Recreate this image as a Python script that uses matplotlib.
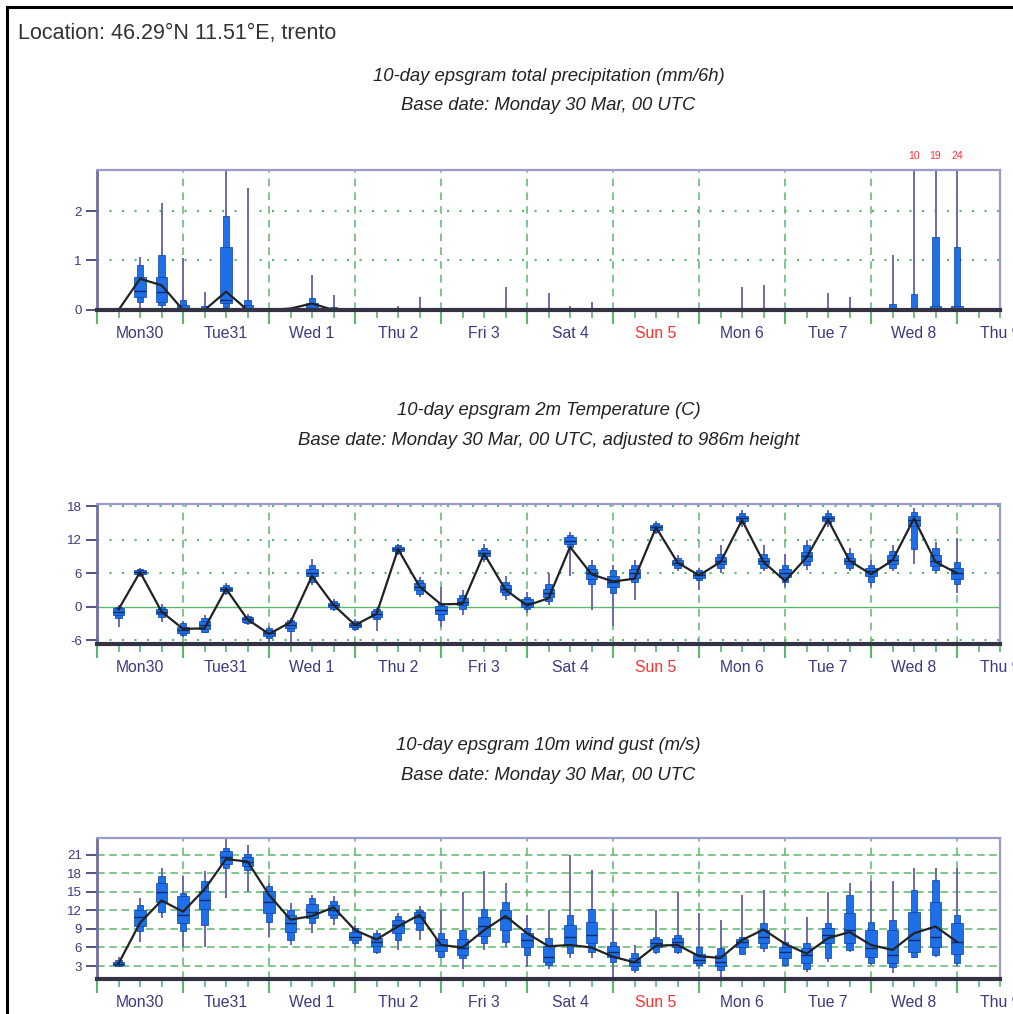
"""10-day epsgram (precip, 2m temperature, 10m wind gust) for trento."""
import numpy as np
import matplotlib.pyplot as plt
from matplotlib.lines import Line2D

plt.rcParams['font.family'] = ['Liberation Sans', 'DejaVu Sans']
plt.rcParams['axes.unicode_minus'] = False

# forecast steps every 6 h, 6..240
steps = np.arange(6, 241, 6)

day_labels = ["Mon30", "Tue31", "Wed 1", "Thu 2", "Fri 3", "Sat 4", "Sun 5",
              "Mon 6", "Tue 7", "Wed 8", "Thu 9"]

# --- total precipitation (mm/6h) ---
p_med = [0, 0.38, 0.37, 0, 0, 0.21, 0.02, 0, 0, 0.05, 0, 0, 0, 0, 0, 0, 0, 0, 0, 0,
         0, 0, 0, 0, 0, 0, 0, 0, 0, 0, 0, 0, 0, 0, 0, 0, 0, 0, 0.02, 0.02]
p_p25 = [0, 0.27, 0.17, 0, 0, 0.15, 0, 0, 0, 0.02, 0, 0, 0, 0, 0, 0, 0, 0, 0, 0,
         0, 0, 0, 0, 0, 0, 0, 0, 0, 0, 0, 0, 0, 0, 0, 0, 0, 0, 0, 0]
p_p75 = [0, 0.67, 0.67, 0.10, 0.04, 1.28, 0.10, 0, 0, 0.15, 0.03, 0, 0, 0, 0, 0, 0, 0, 0, 0,
         0, 0, 0, 0, 0, 0, 0, 0, 0, 0.01, 0.02, 0, 0, 0, 0, 0, 0.03, 0.05, 0.08, 0.08]
p_p10 = [0, 0.17, 0.10, 0, 0, 0.07, 0, 0, 0, 0, 0, 0, 0, 0, 0, 0, 0, 0, 0, 0,
         0, 0, 0, 0, 0, 0, 0, 0, 0, 0, 0, 0, 0, 0, 0, 0, 0, 0, 0, 0]
p_p90 = [0, 0.91, 1.11, 0.20, 0.08, 1.89, 0.20, 0, 0, 0.24, 0.07, 0, 0, 0, 0, 0, 0, 0, 0, 0,
         0, 0, 0, 0, 0, 0, 0, 0, 0, 0.03, 0.04, 0, 0, 0, 0, 0, 0.12, 0.32, 1.47, 1.27]
p_max = [0, 1.08, 2.16, 1.05, 0.37, 2.80, 2.46, 0, 0.05, 0.71, 0.30, 0, 0, 0.09, 0.27, 0, 0.05, 0.02, 0.47, 0,
         0.34, 0.09, 0.17, 0, 0, 0, 0, 0, 0.02, 0.47, 0.50, 0, 0, 0.34, 0.27, 0, 1.11, 10, 19, 24]
p_min = [0] * 40
p_hres = [0, 0.63, 0.50, 0, 0, 0.37, 0, 0, 0.03, 0.13, 0, 0, 0, 0, 0, 0, 0, 0, 0, 0,
          0, 0, 0, 0, 0, 0, 0, 0, 0, 0, 0, 0, 0, 0, 0, 0, 0, 0, 0, 0]

# --- 2m temperature (C) ---
t_med = [-0.9, 6.2, -0.9, -4.2, -3.3, 3.2, -2.3, -4.7, -3.3, 6.1, 0.3, -3.3, -1.3, 10.3, 3.5, -0.6,
         0.9, 9.6, 3.2, 0.7, 2.4, 11.8, 6.0, 4.5, 6.0, 14.2, 7.9, 5.7, 8.2, 15.8, 8.2, 6.1,
         9.0, 15.8, 8.2, 6.3, 8.3, 15.5, 8.1, 6.1]
t_p25 = [-1.5, 5.8, -1.4, -4.7, -4.0, 2.8, -2.7, -5.2, -3.9, 5.4, -0.1, -3.7, -1.8, 9.9, 2.9, -1.4,
         0.2, 9.0, 2.6, 0.0, 1.7, 11.2, 5.0, 3.5, 5.2, 13.8, 7.4, 5.1, 7.6, 15.3, 7.6, 5.3,
         8.2, 15.3, 7.6, 5.5, 7.6, 14.5, 7.3, 5.0]
t_p75 = [-0.3, 6.6, -0.4, -3.6, -2.6, 3.6, -1.9, -4.2, -2.7, 6.8, 0.7, -2.9, -0.8, 10.7, 4.2, 0.1,
         1.5, 10.1, 3.8, 1.3, 3.2, 12.4, 6.8, 5.5, 6.8, 14.6, 8.4, 6.2, 8.9, 16.3, 8.8, 6.8,
         9.8, 16.3, 8.8, 7.0, 9.2, 16.3, 9.2, 7.0]
t_p10 = [-2.0, 5.6, -1.8, -5.0, -4.5, 2.5, -3.0, -5.6, -4.4, 4.5, -0.4, -4.0, -2.2, 9.6, 2.3, -2.4,
         -0.5, 8.5, 2.0, -0.5, 1.0, 10.7, 4.0, 2.5, 4.5, 13.4, 7.0, 4.7, 7.0, 14.9, 7.0, 4.5,
         7.5, 14.9, 7.0, 4.5, 7.0, 10.3, 6.5, 4.0]
t_p90 = [0.0, 6.8, 0.0, -3.0, -2.1, 3.9, -1.6, -3.9, -2.4, 7.5, 1.0, -2.6, -0.4, 11.0, 4.8, 0.6,
         2.0, 10.5, 4.5, 1.8, 4.0, 12.8, 7.5, 6.5, 7.5, 15.0, 8.8, 6.6, 9.5, 16.7, 9.5, 7.5,
         11.0, 16.8, 9.6, 7.5, 10.0, 17.0, 10.5, 8.0]
t_min = [-3.6, 5.3, -2.7, -5.5, -4.8, 2.1, -3.3, -6.5, -6.5, 3.8, -0.8, -4.4, -4.4, 9.2, 1.8, -3.6,
         -1.5, 8.0, 1.2, -1.2, 0.3, 5.5, -0.6, -3.4, 1.2, 13.0, 6.3, 3.0, 6.0, 14.3, 6.3, 3.6,
         6.6, 14.3, 6.3, 3.5, 6.3, 7.7, 6.0, 2.5]
t_max = [0.3, 7.0, 0.4, -2.6, -1.5, 4.2, -1.3, -3.5, -2.0, 8.6, 1.3, -2.3, 0.0, 11.3, 5.3, 3.6,
         3.0, 11.2, 5.5, 2.6, 6.0, 13.3, 8.3, 7.4, 8.3, 15.4, 9.3, 7.0, 11.0, 17.3, 11.0, 9.4,
         12.0, 17.3, 10.5, 8.3, 11.0, 17.6, 11.6, 12.3]
t_hres = [-0.5, 6.2, -0.9, -4.0, -3.9, 3.2, -2.3, -4.9, -2.8, 5.5, 0.3, -3.3, -1.3, 10.3, 3.6, 0.4,
          0.5, 9.5, 3.0, 0.2, 1.5, 10.7, 5.8, 4.5, 5.0, 14.2, 7.9, 5.6, 8.0, 15.5, 8.0, 4.6,
          8.8, 15.6, 8.2, 5.8, 8.3, 15.8, 8.0, 6.0]

# --- 10m wind gust (m/s) ---
w_med = [3.4, 11.0, 15.0, 11.3, 13.7, 20.7, 19.9, 13.4, 9.9, 11.8, 12.1, 7.75, 6.9, 9.6, 11.0, 6.4,
         5.9, 9.4, 10.7, 7.2, 4.5, 7.75, 8.0, 5.3, 3.7, 6.7, 6.9, 4.0, 3.7, 6.9, 7.75, 5.3,
         4.8, 8.0, 8.8, 5.9, 4.8, 7.2, 7.75, 6.9]
w_p25 = [3.2, 9.4, 13.4, 10.0, 12.2, 19.5, 19.2, 11.5, 8.5, 10.8, 11.3, 7.2, 6.2, 8.4, 10.0, 5.5,
         4.8, 7.8, 8.8, 6.0, 3.6, 6.4, 6.7, 4.5, 3.0, 6.0, 6.1, 3.5, 3.0, 6.1, 6.7, 4.3,
         3.5, 6.7, 6.7, 4.5, 3.5, 5.3, 6.1, 5.0]
w_p75 = [3.7, 12.1, 16.4, 14.3, 15.1, 21.6, 20.7, 15.1, 11.3, 13.0, 12.9, 8.5, 7.6, 10.4, 11.7, 7.3,
         7.3, 11.0, 12.0, 8.4, 6.2, 9.6, 10.2, 6.2, 4.3, 7.3, 7.5, 5.0, 4.8, 7.3, 8.8, 6.1,
         5.9, 9.1, 11.5, 8.8, 8.8, 11.8, 13.4, 9.9]
w_p10 = [3.0, 8.6, 11.8, 8.6, 9.6, 18.8, 18.6, 10.2, 7.2, 9.9, 10.8, 6.7, 5.3, 7.2, 8.8, 4.5,
         4.3, 6.7, 6.9, 4.8, 3.2, 5.1, 5.3, 3.7, 2.35, 5.3, 5.3, 3.2, 2.35, 5.0, 5.9, 3.2,
         2.6, 4.3, 5.6, 3.5, 2.9, 4.5, 4.8, 3.5]
w_p90 = [3.9, 12.9, 17.5, 14.8, 16.7, 22.1, 21.2, 15.9, 12.1, 14.0, 13.5, 9.1, 8.3, 11.1, 12.1, 8.3,
         8.8, 12.3, 13.4, 9.1, 7.5, 11.3, 12.3, 6.9, 5.1, 7.75, 8.0, 6.1, 5.9, 7.75, 9.9, 6.9,
         6.7, 9.9, 14.5, 10.2, 10.5, 15.3, 16.9, 11.3]
w_min = [2.8, 6.9, 10.8, 6.1, 6.1, 14.0, 15.0, 7.7, 6.4, 8.3, 9.6, 6.1, 4.9, 5.6, 7.2, 4.3,
         2.6, 5.6, 6.1, 2.9, 2.6, 4.3, 4.3, 1.3, 1.9, 5.0, 5.0, 2.6, 1.3, 4.8, 5.3, 2.9,
         2.1, 3.7, 5.3, 3.2, 1.9, 4.3, 4.5, 2.9]
w_max = [4.5, 14.0, 18.8, 17.5, 18.3, 23.7, 22.5, 16.4, 13.2, 14.5, 14.3, 9.6, 8.8, 11.5, 12.7, 12.1,
         15.0, 18.3, 16.4, 11.3, 12.1, 21.0, 18.6, 12.1, 6.4, 12.1, 15.0, 11.5, 10.5, 14.5, 15.3, 8.8,
         11.0, 15.0, 16.4, 16.7, 16.7, 18.8, 18.8, 18.8]
w_hres = [3.4, 10.0, 13.6, 11.8, 15.4, 20.3, 19.9, 14.5, 10.5, 11.1, 12.5, 8.8, 7.3, 9.4, 11.3, 6.4,
          6.0, 8.8, 11.1, 8.3, 6.2, 6.4, 6.0, 4.5, 3.6, 6.3, 6.4, 4.6, 4.3, 7.2, 8.9, 6.6,
          5.0, 7.5, 8.5, 6.4, 5.6, 8.3, 9.4, 6.9]

BOX = "#1f6fe8"
BOX_EDGE = "#0c3f9c"
WHISK = "#6a6aae"
GREEN = "#5cb86c"
TXT = "#3a3a80"

fig = plt.figure(figsize=(10.13, 10.14), dpi=100)

# frame of the screenshot (left + top only)
fig.add_artist(Line2D([0.0068, 0.0068], [0, 0.9935], color="black", lw=2.2,
                      transform=fig.transFigure))
fig.add_artist(Line2D([0.0068, 1.0], [0.9935, 0.9935], color="black", lw=2.2,
                      transform=fig.transFigure))
fig.text(0.018, 0.967, "Location: 46.29°N 11.51°E, trento", fontsize=15.5,
         color="#333333", va="center", ha="left")


def panel(rect, lo, hi, yticks, ylim, title, sub, med, p25, p75, p10, p90, mn, mx, hres):
    ax = fig.add_axes(rect)
    ax.set_xlim(0, 252)
    ax.set_ylim(*ylim)
    # whiskers, 10-90 and 25-75 boxes, median
    ax.vlines(steps, mn, mx, color=WHISK, lw=1.4, zorder=2)
    ax.bar(steps, np.array(p90) - np.array(p10), bottom=p10, width=1.9,
           color=BOX, edgecolor=BOX_EDGE, lw=0.5, zorder=3)
    ax.bar(steps, np.array(p75) - np.array(p25), bottom=p25, width=3.2,
           color=BOX, edgecolor=BOX_EDGE, lw=0.5, zorder=4)
    ax.hlines(med, steps - 1.6, steps + 1.6, color="#0a2a66", lw=1.0, zorder=5)
    ax.plot(steps, hres, color="#222222", lw=1.6, zorder=6)

    for d in range(24, 241, 24):
        ax.axvline(d, color=GREEN, lw=1.1, ls=(0, (5, 4)), zorder=1)
    ax.set_yticks(yticks)
    ax.tick_params(axis="y", direction="out", length=8, width=1.2, color="#333377",
                   labelsize=9.5, labelcolor=TXT, pad=3)
    ax.set_xticks(np.arange(0, 253, 24))
    ax.set_xticks(np.arange(0, 253, 6), minor=True)
    ax.tick_params(axis="x", which="major", direction="out", length=10, width=1.5,
                   color=GREEN, labelbottom=False)
    ax.tick_params(axis="x", which="minor", direction="out", length=6, width=1.2,
                   color=GREEN)

    for side in ("top", "right"):
        ax.spines[side].set_color("#9a9acc")
        ax.spines[side].set_linewidth(1.6)
    ax.spines["left"].set_color("#6e6ea0")
    ax.spines["left"].set_linewidth(2.0)
    ax.spines["bottom"].set_color("#333344")
    ax.spines["bottom"].set_linewidth(3.0)
    ax.spines["bottom"].set_zorder(7)

    for i, lab in enumerate(day_labels):
        ax.text(12 + 24 * i, -0.17, lab, transform=ax.get_xaxis_transform(),
                ha="center", va="center", fontsize=11.3,
                color="#ff3030" if lab.startswith("Sun") else TXT, clip_on=False)

    cx = rect[0] + rect[2] / 2
    fig.text(cx, lo, title, ha="center", va="center", fontsize=13.3, style="italic",
             color="#222222")
    fig.text(cx, hi, sub, ha="center", va="center", fontsize=13.3, style="italic",
             color="#222222")
    return ax


ax1 = panel([0.0958, 0.6943, 0.8914, 0.1381], 0.925, 0.8955, [0, 1, 2], (0, 2.83),
            "10-day epsgram total precipitation (mm/6h)",
            "Base date: Monday 30 Mar, 00 UTC",
            p_med, p_p25, p_p75, p_p10, p_p90, p_min, p_max, p_hres)
for v in [1, 2]:
    ax1.axhline(v, color=GREEN, lw=1.5, ls=(0, (1, 5)), zorder=1)
for s, m in zip(steps, p_max):
    if m > 2.83:
        ax1.text(s, 1.1, f"{m:.0f}", transform=ax1.get_xaxis_transform(),
                 ha="center", va="center", fontsize=7.5, color="#ff3030")

ax2 = panel([0.0958, 0.3649, 0.8914, 0.1381], 0.5947, 0.566, [-6, 0, 6, 12, 18], (-6.7, 18.4),
            "10-day epsgram 2m Temperature (C)",
            "Base date: Monday 30 Mar, 00 UTC, adjusted to 986m height",
            t_med, t_p25, t_p75, t_p10, t_p90, t_min, t_max, t_hres)
ax2.axhline(0, color=GREEN, lw=1.0, zorder=1)
for v in [-6, 6, 12, 18]:
    ax2.axhline(v, color=GREEN, lw=1.5, ls=(0, (1, 5)), zorder=1)

ax3 = panel([0.0958, 0.0345, 0.8914, 0.139], 0.2643, 0.2357, [3, 6, 9, 12, 15, 18, 21], (0.9, 23.7),
            "10-day epsgram 10m wind gust (m/s)",
            "Base date: Monday 30 Mar, 00 UTC",
            w_med, w_p25, w_p75, w_p10, w_p90, w_min, w_max, w_hres)
for v in [3, 6, 9, 12, 15, 18, 21]:
    ax3.axhline(v, color=GREEN, lw=1.1, ls=(0, (5, 3)), zorder=1)

fig.savefig("out.png", dpi=100)
